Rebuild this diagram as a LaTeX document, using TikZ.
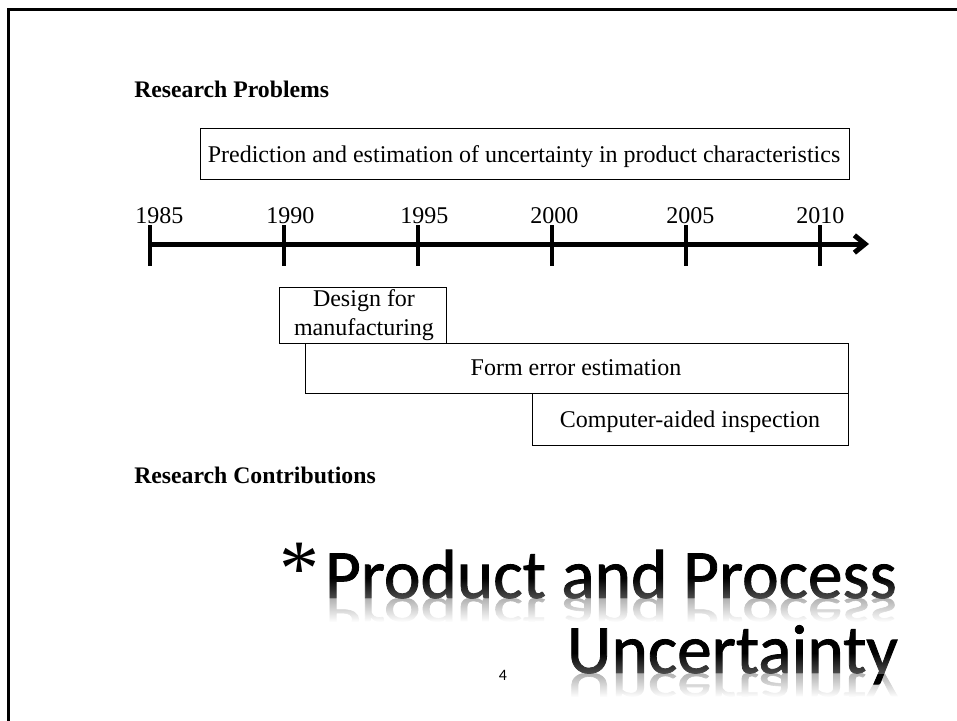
\documentclass[tikz,border=0pt]{standalone}
\usepackage{fontspec}
\setmainfont{Liberation Serif}
\newfontfamily\titlefont[FakeBold=1.2]{Carlito}
\newfontfamily\pagefont{Carlito}
\usetikzlibrary{arrows.meta,fadings}

\begin{document}
\begin{tikzpicture}[x=0.75pt,y=-0.75pt,
  plain/.style={inner sep=0pt,font=\fontsize{18}{20}\selectfont},
  yearlabel/.style={plain,anchor=base west},
  boxtext/.style={plain,anchor=base},
  headline/.style={plain,anchor=base west,font=\fontsize{17.8}{20}\selectfont\bfseries},
  bigtitle/.style={inner sep=0pt,anchor=base east,font=\titlefont\fontsize{52}{60}\selectfont},
  mirror/.style={bigtitle,text=black!30}]

\useasboundingbox (0,0) rectangle (957,721);

% slide frame
\draw [line width=2.25pt] (8.7,721) -- (8.7,9.7) -- (957,9.7);

\coordinate (A) at (200,128);
\coordinate (B) at (849,179);
\coordinate (C) at (279,287);
\coordinate (D) at (446.7,343);
\coordinate (E) at (305,343);
\coordinate (F) at (848,393);
\coordinate (G) at (532,393);
\coordinate (H) at (848,445);
\coordinate (S) at (150,244);
\coordinate (T) at (869,244);

\node [headline] (prob) at (134,97) {Research Problems};
\node [headline] (contrib) at (134,483) {Research Contributions};

% boxes
\draw [line width=0.75pt] (A) rectangle (B);
\draw [line width=0.75pt] (C) rectangle (D);
\draw [line width=0.75pt] (E) rectangle (F);
\draw [line width=0.75pt] (G) rectangle (H);

\node [boxtext] (pred) at (524,162) {Prediction and estimation of uncertainty in product characteristics};
\node [boxtext] (dfmA) at (364,306.7) {Design for};
\node [boxtext] (dfmB) at (364,335.7) {manufacturing};
\node [boxtext] (form) at (576,375.7) {Form error estimation};
\node [boxtext] (cai) at (690,427.3) {Computer-aided inspection};

% time axis
\draw [line width=3.75pt, -{Straight Barb[length=8pt,width=13pt]}] (S) -- (T);
\foreach \i/\yr/\lx in {0/1985/135, 1/1990/266, 2/1995/400, 3/2000/530, 4/2005/666, 5/2010/796}
{
  \draw [line width=3pt] (150+134*\i,225) -- (150+134*\i,266);
  \node [yearlabel] (y\yr) at (\lx,223) {\yr};
}

% title with reflection
\begin{scope}
\clip (300,598.5) rectangle (905,621);
\node [mirror] (refA) at (897,598) {\scalebox{1}[-0.7]{Product and Process}};
\end{scope}
\fill [white, path fading=north] (300,598.5) rectangle (905,622);
\begin{scope}
\clip (540,673.5) rectangle (905,696);
\node [mirror] (refB) at (898,673) {\scalebox{1}[-0.7]{Uncertainty}};
\end{scope}
\fill [white, path fading=north] (540,673.5) rectangle (905,697);

\node [bigtitle] (titA) at (897,598) {Product and Process};
\node [bigtitle] (titB) at (898,673) {Uncertainty};
\node [inner sep=0pt, anchor=north west, font=\fontsize{60}{60}\selectfont] (star) at (279,543) {*};
\fill [white, path fading=north, fill opacity=0.3] (315,578) rectangle (905,598.5);
\fill [white, path fading=north, fill opacity=0.3] (555,653) rectangle (905,673.5);

\node [inner sep=0pt, anchor=base, font=\pagefont\fontsize{11.9}{14}\selectfont] (pg) at (503,680.7) {4};
\end{tikzpicture}
\end{document}
